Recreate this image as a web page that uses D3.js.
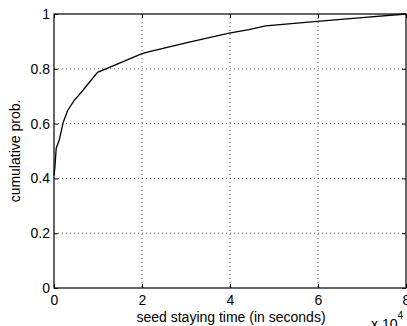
<!DOCTYPE html>
<html>
<head>
<meta charset="utf-8">
<script src="https://cdn.jsdelivr.net/npm/d3@7"></script>
<style>
  html, body { margin: 0; padding: 0; background: #fff; }
  svg { display: block; }
  text { font-family: "Liberation Sans", Arial, Helvetica, sans-serif; fill: #000; }
</style>
</head>
<body>
<svg id="chart" width="407" height="326"></svg>
<script>
// Empirical CDF of seed staying time (seconds)
const stayTime = [0, 200, 500, 1200, 2100, 3100, 4600, 6500, 8000, 9900,
                  14500, 20000, 21700, 30000, 39800, 44300, 48100, 59800, 70000, 80000];
const cumProb  = [0.41, 0.44, 0.51, 0.54, 0.605, 0.648, 0.685, 0.72, 0.75, 0.787,
                  0.818, 0.855, 0.863, 0.895, 0.93, 0.943, 0.957, 0.973, 0.987, 1.0];

const xTicks = [0, 20000, 40000, 60000, 80000];
const yTicks = [0, 0.2, 0.4, 0.6, 0.8, 1];
const xLabel = "seed staying time (in seconds)";
const yLabel = "cumulative prob.";

const W = 407, H = 326;
const margin = { top: 14, right: 1, bottom: 38, left: 54 };
const iw = W - margin.left - margin.right;
const ih = H - margin.top - margin.bottom;
const fs = 14;

const svg = d3.select("#chart");
const g = svg.append("g").attr("transform", `translate(${margin.left},${margin.top})`);

const x = d3.scaleLinear().domain([0, 80000]).range([0, iw]);
const y = d3.scaleLinear().domain([0, 1]).range([ih, 0]);

// dotted grid
g.append("g").selectAll("line").data(xTicks.slice(1, -1)).join("line")
  .attr("x1", d => x(d)).attr("x2", d => x(d))
  .attr("y1", 0).attr("y2", ih)
  .attr("stroke", "#000").attr("stroke-width", 0.6)
  .attr("stroke-dasharray", "1,3");
g.append("g").selectAll("line").data(yTicks.slice(1, -1)).join("line")
  .attr("x1", 0).attr("x2", iw)
  .attr("y1", d => y(d)).attr("y2", d => y(d))
  .attr("stroke", "#000").attr("stroke-width", 0.6)
  .attr("stroke-dasharray", "1,3");

// axes with inward ticks
const fmtX = d => String(d / 10000);
const axB = g.append("g").attr("transform", `translate(0,${ih})`)
  .call(d3.axisBottom(x).tickValues(xTicks).tickSizeInner(-4).tickSizeOuter(0).tickPadding(7).tickFormat(fmtX));
const axT = g.append("g")
  .call(d3.axisTop(x).tickValues(xTicks).tickSizeInner(-4).tickSizeOuter(0).tickFormat(""));
const axL = g.append("g")
  .call(d3.axisLeft(y).tickValues(yTicks).tickSizeInner(-4).tickSizeOuter(0).tickPadding(4).tickFormat(d3.format("")));
const axR = g.append("g").attr("transform", `translate(${iw},0)`)
  .call(d3.axisRight(y).tickValues(yTicks).tickSizeInner(-4).tickSizeOuter(0).tickFormat(""));

[axB, axT, axL, axR].forEach(a => {
  a.select(".domain").remove();
  a.selectAll("line").attr("stroke", "#000").attr("stroke-width", 1);
  a.selectAll("text").attr("font-size", fs).attr("fill", "#000");
});
axB.selectAll("text").attr("dy", "0.71em");

// box
g.append("rect").attr("x", 0).attr("y", 0).attr("width", iw).attr("height", ih)
  .attr("fill", "none").attr("stroke", "#000").attr("stroke-width", 1.2);

// curve
const pts = stayTime.map((t, i) => [t, cumProb[i]]);
g.append("path").datum(pts)
  .attr("fill", "none").attr("stroke", "#000").attr("stroke-width", 1.3)
  .attr("d", d3.line().x(d => x(d[0])).y(d => y(d[1])));

// axis labels
svg.append("text").attr("x", margin.left + iw / 2 + 1).attr("y", 322)
  .attr("text-anchor", "middle").attr("font-size", fs).text(xLabel);
svg.append("text").attr("transform", `translate(20,${margin.top + ih / 2}) rotate(-90)`)
  .attr("text-anchor", "middle").attr("font-size", fs).text(yLabel);

// exponent marker
const ex = svg.append("text").attr("x", 371).attr("y", 329).attr("font-size", fs);
ex.append("tspan").text("x 10");
ex.append("tspan").attr("dy", -10).attr("font-size", 10).text("4");
</script>
</body>
</html>
